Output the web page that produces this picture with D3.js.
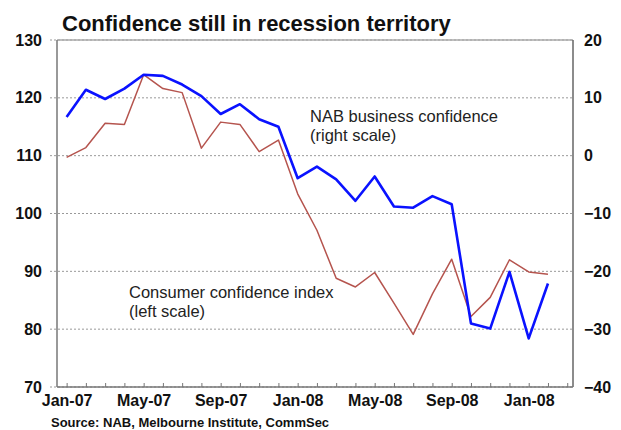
<!DOCTYPE html>
<html>
<head>
<meta charset="utf-8">
<script src="https://cdn.jsdelivr.net/npm/d3@7"></script>
<style>
  body { margin: 0; background: #fff; }
  text { font-family: Arial, "Liberation Sans", sans-serif; }
</style>
</head>
<body>
<div id="chart"></div>
<script>
  // Data
  var months = ["Jan-07","Feb-07","Mar-07","Apr-07","May-07","Jun-07","Jul-07","Aug-07","Sep-07","Oct-07","Nov-07","Dec-07",
                "Jan-08","Feb-08","Mar-08","Apr-08","May-08","Jun-08","Jul-08","Aug-08","Sep-08","Oct-08","Nov-08","Dec-08",
                "Jan-09","Feb-09"];
  var nabConfidence = [6.7, 11.4, 9.8, 11.6, 14.0, 13.8, 12.3, 10.3, 7.2, 8.9, 6.3, 5.0,
                       -3.9, -1.9, -4.1, -7.8, -3.6, -8.8, -9.0, -7.0, -8.4, -29.0, -29.9, -20.1, -31.6, -22.1];
  var consumerConfidence = [109.7, 111.4, 115.6, 115.4, 124.0, 121.6, 120.9, 111.3, 115.8, 115.4, 110.7, 112.7,
                            103.4, 97.1, 88.8, 87.3, 89.8, 84.5, 79.1, 86.1, 92.1, 82.2, 85.5, 92.0, 89.9, 89.5];
  var xTickLabels = ["Jan-07", "May-07", "Sep-07", "Jan-08", "May-08", "Sep-08", "Jan-08"];
  var leftTicks = [70, 80, 90, 100, 110, 120, 130];
  var rightTicks = [-40, -30, -20, -10, 0, 10, 20];

  var width = 621, height = 430;
  var plot = { left: 57, right: 573, top: 40, bottom: 387 };

  var svg = d3.select("#chart").append("svg")
              .attr("width", width)
              .attr("height", height);

  // Scales
  var x = d3.scaleLinear().domain([-0.5, 26.3]).range([plot.left, plot.right]);
  var yL = d3.scaleLinear().domain([70, 130]).range([plot.bottom, plot.top]);
  var yR = d3.scaleLinear().domain([-40, 20]).range([plot.bottom, plot.top]);

  // Title
  svg.append("text")
     .attr("x", 62).attr("y", 31)
     .style("font-size", "22px").style("font-weight", "bold")
     .attr("fill", "#111")
     .text("Confidence still in recession territory");

  // Dotted gridlines (they poke out a little left of the axis)
  svg.append("g").selectAll("line")
     .data(leftTicks)
     .enter().append("line")
     .attr("x1", plot.left - 7).attr("x2", plot.right)
     .attr("y1", function(d) { return yL(d); })
     .attr("y2", function(d) { return yL(d); })
     .attr("stroke", "#999")
     .attr("stroke-width", 1)
     .attr("stroke-dasharray", "2,2");

  // Frame
  svg.append("line").attr("x1", plot.left).attr("x2", plot.right).attr("y1", plot.top).attr("y2", plot.top)
     .attr("stroke", "#aaa").attr("stroke-width", 1.5);
  svg.append("line").attr("x1", plot.left).attr("x2", plot.left).attr("y1", plot.top).attr("y2", plot.bottom)
     .attr("stroke", "#777").attr("stroke-width", 1.5);
  svg.append("line").attr("x1", plot.right).attr("x2", plot.right).attr("y1", plot.top).attr("y2", plot.bottom)
     .attr("stroke", "#666").attr("stroke-width", 1.5);
  svg.append("line").attr("x1", plot.left).attr("x2", plot.right).attr("y1", plot.bottom).attr("y2", plot.bottom)
     .attr("stroke", "#777").attr("stroke-width", 1.5);

  // Left axis
  var gL = svg.append("g")
     .attr("transform", "translate(" + plot.left + ",0)")
     .call(d3.axisLeft(yL).tickValues(leftTicks).tickSize(0).tickPadding(15));
  // Right axis
  var gR = svg.append("g")
     .attr("transform", "translate(" + plot.right + ",0)")
     .call(d3.axisRight(yR).tickValues(rightTicks).tickSize(0).tickPadding(11));

  // Bottom axis: a tick for every month, a label every four months
  var gB = svg.append("g")
     .attr("transform", "translate(0," + plot.bottom + ")")
     .call(d3.axisBottom(x).tickValues(d3.range(0, 27)).tickSize(-4).tickPadding(8)
             .tickFormat(function(d) { return d % 4 === 0 ? xTickLabels[d / 4] : ""; }));

  [gL, gR, gB].forEach(function(g) {
    g.select(".domain").remove();
    g.selectAll("text")
     .style("font-size", "16px").style("font-weight", "bold")
     .attr("fill", "#111");
  });
  gB.selectAll(".tick line").attr("stroke", "#777").attr("stroke-width", 1);

  // Lines
  var consumerLine = d3.line()
      .x(function(d, i) { return x(i); })
      .y(function(d) { return yL(d); });
  var nabLine = d3.line()
      .x(function(d, i) { return x(i); })
      .y(function(d) { return yR(d); });

  svg.append("path")
     .datum(consumerConfidence)
     .attr("d", consumerLine)
     .attr("fill", "none")
     .attr("stroke", "#b5544e")
     .attr("stroke-width", 1.5)
     .attr("stroke-linejoin", "round");

  svg.append("path")
     .datum(nabConfidence)
     .attr("d", nabLine)
     .attr("fill", "none")
     .attr("stroke", "#0a12ff")
     .attr("stroke-width", 2.6)
     .attr("stroke-linejoin", "round");

  // Annotations
  function note(xPos, yPos, lines) {
    var t = svg.append("text")
       .attr("x", xPos).attr("y", yPos)
       .style("font-size", "16.5px")
       .attr("fill", "#222");
    lines.forEach(function(s, i) {
      t.append("tspan").attr("x", xPos).attr("dy", i === 0 ? 0 : 19).text(s);
    });
  }
  note(310, 122, ["NAB business confidence", "(right scale)"]);
  note(129, 298, ["Consumer confidence index", "(left scale)"]);

  // Source
  svg.append("text")
     .attr("x", 51).attr("y", 427)
     .style("font-size", "13px").style("font-weight", "bold")
     .attr("fill", "#111")
     .text("Source: NAB, Melbourne Institute, CommSec");
</script>
</body>
</html>
